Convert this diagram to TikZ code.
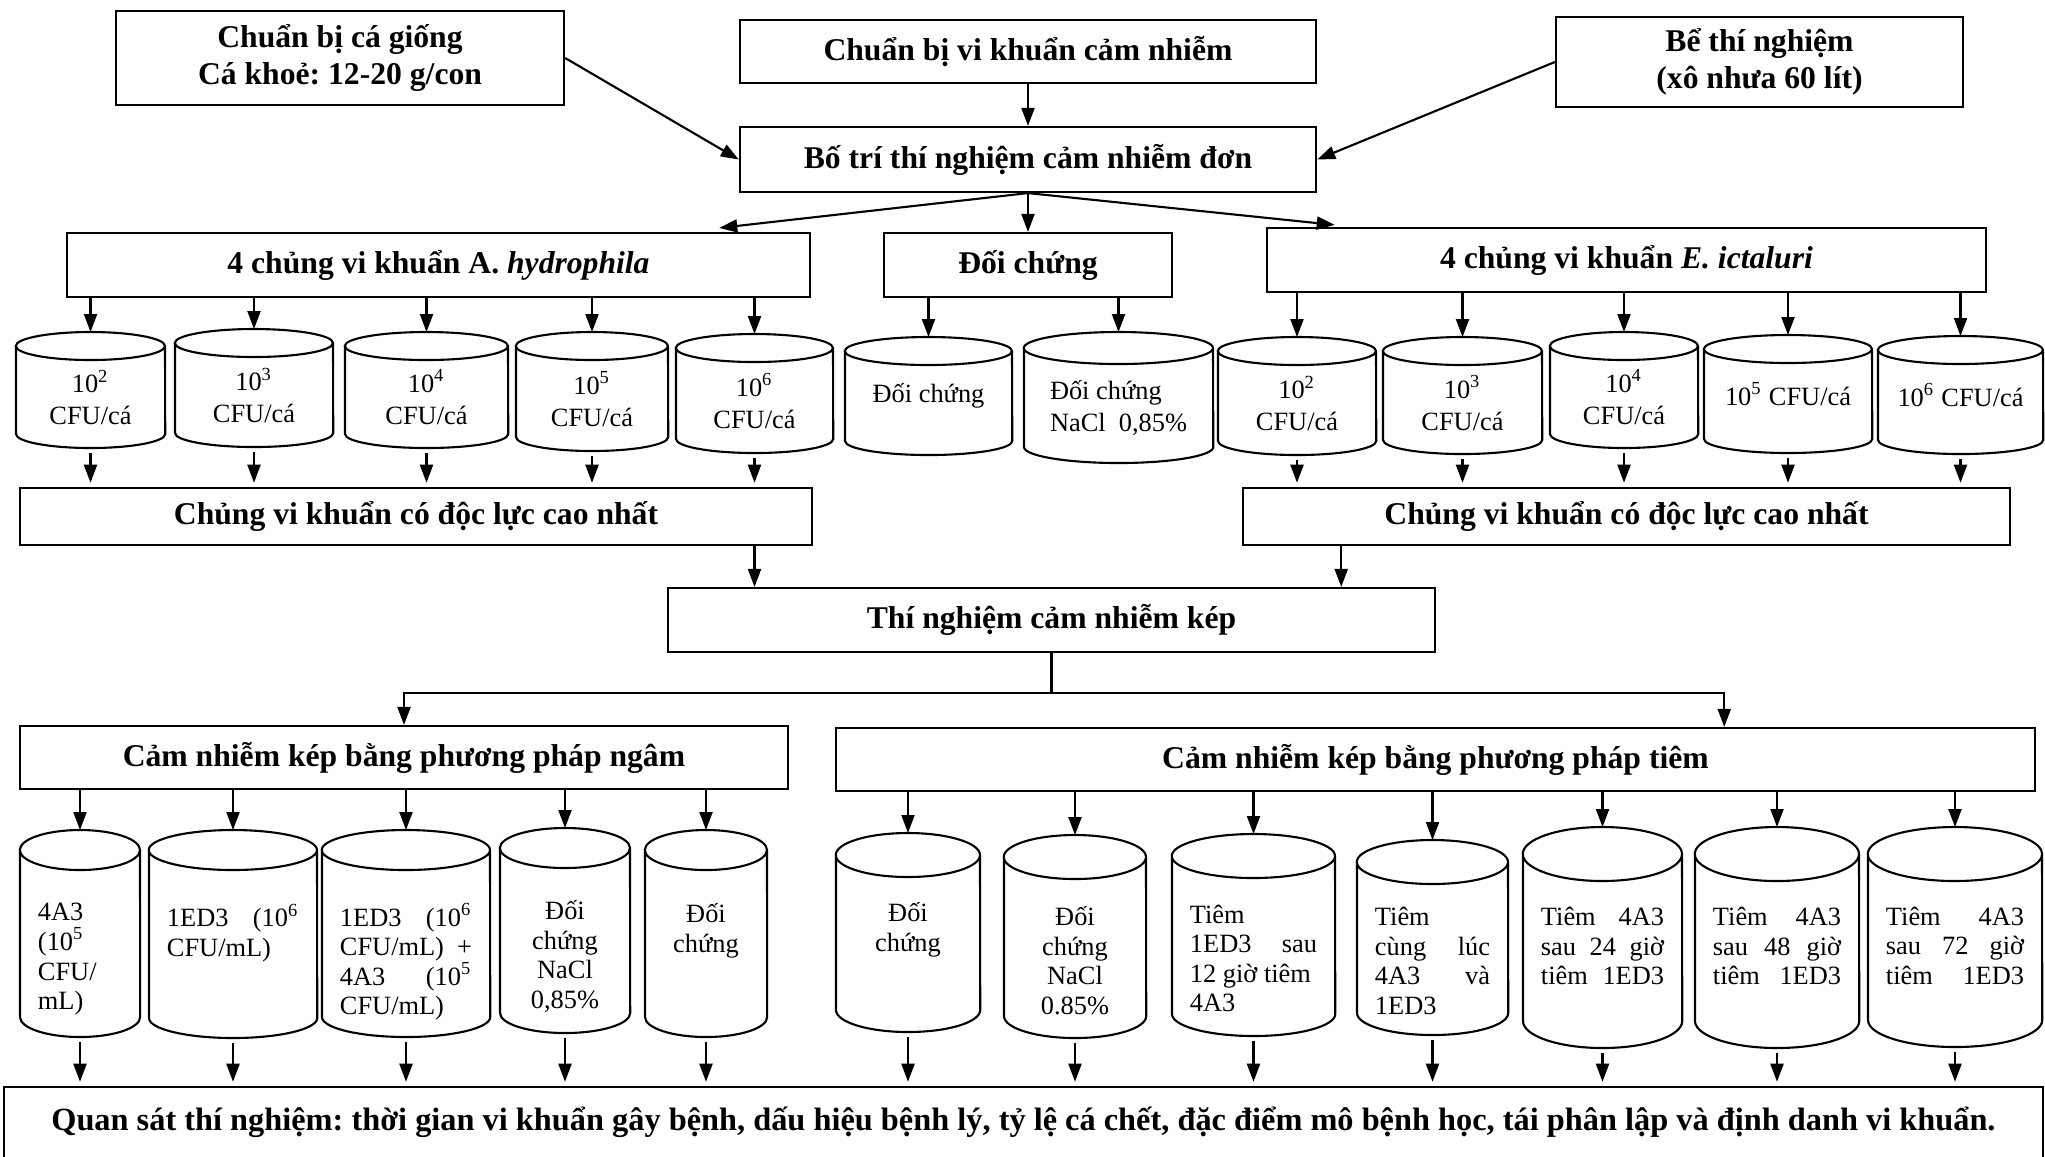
\documentclass[tikz,border=0pt]{standalone}
\usepackage{fontspec}
\setmainfont{Liberation Serif}
\usetikzlibrary{arrows.meta,calc}
\tikzset{
  >={Triangle[length=1.8mm,width=1.3mm]},
  box/.style={rectangle, draw, line width=0.6pt, inner sep=0pt, align=center,
    font=\bfseries\fontsize{9}{10.4}\selectfont},
  vessel/.style={rectangle, inner sep=0pt, outer sep=0pt, align=center,
    font=\fontsize{7.5}{9.1}\selectfont},
  rim/.style={line width=0.6pt},
  tr/.style={->, line width=0.6pt},
  trc/.style={->, line width=0.6pt, shorten <=1.5pt, shorten >=1.2pt}
}
% tank: [options]{name}{left}{right}{top}{bottom}{cap}{text}
\newcommand{\vessel}[8][]{%
  \node[vessel, #1, minimum width={(#4-#3)*0.01cm}, minimum height={(#6-#5)*0.01cm}]
    (#2) at ({(#3+#4)/2},{(#5+#6)/2}) {#8};
  \draw[rim] ([yshift=-#7*0.01cm]#2.north west) -- ([yshift=#7*0.01cm]#2.south west)
    arc[start angle=180, end angle=360, x radius={(#4-#3)*0.005cm}, y radius={#7*0.01cm}]
    -- ([yshift=-#7*0.01cm]#2.north east)
    arc[start angle=0, end angle=360, x radius={(#4-#3)*0.005cm}, y radius={#7*0.01cm}];
}
% two lines, set a little lower
\newcommand{\two}[3][c]{\raisebox{-1.2mm}[\height][\depth]{\begin{tabular}{@{}#1@{}}#2\\#3\end{tabular}}}
% text block hung from the top
\newcommand{\jt}[2]{\parbox[c][0.60cm][t]{#1}{\fontsize{7.5}{8.4}\selectfont #2}}

\begin{document}
\frenchspacing
\begin{tikzpicture}[x=0.01cm, y=-0.01cm]
    \useasboundingbox (0,0) rectangle (2045,1156);

    % Preparation
    \node[box, minimum width=4.48cm, minimum height=0.94cm] (fish) at (340,58)
        {Chuẩn bị cá giống\\Cá khoẻ: 12-20 g/con};
    \node[box, minimum width=5.76cm, minimum height=0.63cm] (bact) at (1028,51.5)
        {Chuẩn bị vi khuẩn cảm nhiễm};
    \node[box, minimum width=4.07cm, minimum height=0.90cm] (tub) at (1759.5,62)
        {Bể thí nghiệm\\(xô nhưa 60 lít)};
    \node[box, minimum width=5.76cm, minimum height=0.65cm] (single) at (1028,159.5)
        {Bố trí thí nghiệm cảm nhiễm đơn};

    \draw[tr] (fish.east) -- (single.west);
    \draw[tr] (tub.west) -- (single.east);
    \draw[tr] (bact.south) -- (single.north);

    % Single infection groups
    \node[box, minimum width=7.43cm, minimum height=0.64cm] (hyd) at (438.5,265)
        {4 chủng vi khuẩn A. \textit{hydrophila}};
    \node[box, minimum width=2.88cm, minimum height=0.64cm] (ctrl) at (1028,265)
        {Đối chứng};
    \node[box, minimum width=7.19cm, minimum height=0.64cm] (ict) at (1626.5,260)
        {4 chủng vi khuẩn \textit{E. ictaluri}};

    \draw[tr] (single.south) -- ($(hyd.north east)+(-92,-4)$);
    \draw[tr] (single.south) -- (ctrl.north);
    \draw[tr] (single.south) -- ($(ict.north west)+(69,-2)$);

    % Doses, single infection
    \vessel{c1}{16}{165}{332}{448}{14}{\two{10\textsuperscript{2}}{CFU/cá}}
    \vessel{c2}{175}{333}{329}{447}{14}{\two{10\textsuperscript{3}}{CFU/cá}}
    \vessel{c3}{345}{508}{332}{448}{14}{\two{10\textsuperscript{4}}{CFU/cá}}
    \vessel{c4}{516}{668}{332}{451}{14}{\two{10\textsuperscript{5}}{CFU/cá}}
    \vessel{c5}{676}{833}{334}{453}{14}{\two{10\textsuperscript{6}}{CFU/cá}}
    \vessel{c6}{845}{1012}{337}{455}{14}{Đối chứng}
    \vessel{c7}{1024}{1213}{332}{463}{16}{\two[l]{Đối chứng}{NaCl\ \ 0,85\%}}
    \vessel{c8}{1218}{1376}{337}{455}{14}{\two{10\textsuperscript{2}}{CFU/cá}}
    \vessel{c9}{1383}{1542}{337}{454}{14}{\two{10\textsuperscript{3}}{CFU/cá}}
    \vessel{c10}{1550}{1698}{332}{448}{14}{\two{10\textsuperscript{4}}{CFU/cá}}
    \vessel{c11}{1704}{1872}{335}{453}{14}{10\textsuperscript{5} CFU/cá}
    \vessel{c12}{1878}{2043}{336}{454}{14}{10\textsuperscript{6} CFU/cá}

    \node[box, minimum width=7.92cm, minimum height=0.57cm] (best1) at (416,516.5)
        {Chủng vi khuẩn có độc lực cao nhất};
    \node[box, minimum width=7.67cm, minimum height=0.57cm] (best2) at (1626.5,516.5)
        {Chủng vi khuẩn có độc lực cao nhất};

    \foreach \i in {1,...,5} {
        \draw[tr] (hyd.south -| c\i.north) -- (c\i.north);
        \draw[trc] (c\i.south) -- (c\i.south |- best1.north);
    }
    \foreach \i in {6,7}
        \draw[tr] (ctrl.south -| c\i.north) -- (c\i.north);
    \foreach \i in {8,...,12} {
        \draw[tr] (ict.south -| c\i.north) -- (c\i.north);
        \draw[trc] (c\i.south) -- (c\i.south |- best2.north);
    }

    % Dual infection
    \node[box, minimum width=7.67cm, minimum height=0.64cm] (dual) at (1051.5,620)
        {Thí nghiệm cảm nhiễm kép};
    \draw[tr] (best1.south -| c5) -- (dual.north -| c5);
    \coordinate (k2) at ([xshift=-0.95cm]dual.north east);
    \draw[tr] (k2 |- best2.south) -- (k2);

    \node[box, minimum width=7.68cm, minimum height=0.63cm] (soak) at (404,757.5)
        {Cảm nhiễm kép bằng phương pháp ngâm};
    \node[box, minimum width=11.99cm, minimum height=0.63cm] (inject) at (1435.5,759.5)
        {Cảm nhiễm kép bằng phương pháp tiêm};

    \coordinate (fork) at ([yshift=-0.40cm]dual.south);
    \coordinate (k3) at ([xshift=-3.12cm]inject.north east);
    \draw[line width=0.6pt] (dual.south) -- (fork);
    \draw[tr] (fork) -| (soak.north);
    \draw[tr] (fork) -| (k3);

    % Immersion groups
    \vessel{d1}{20}{140}{830}{1037}{20}{\jt{0.84cm}{4A3\\(10\textsuperscript{5}\\CFU/\\mL)}}
    \vessel{d2}{149}{317}{830}{1038}{20}{\jt{1.32cm}{1ED3\hfill(10\textsuperscript{6}\\CFU/mL)}}
    \vessel{d3}{322}{490}{830}{1037}{20}{\jt{1.32cm}{1ED3\hfill(10\textsuperscript{6}\\CFU/mL)\hfill+\\4A3\hfill(10\textsuperscript{5}\\CFU/mL)}}
    \vessel{d4}{500}{630}{828}{1033}{20}{\jt{0.94cm}{\centering Đối\\chứng\\NaCl\\0,85\%}}
    \vessel{d5}{645}{767}{830}{1037}{20}{\jt{0.86cm}{\centering Đối\\chứng}}

    % Injection groups
    \vessel{e1}{836}{980}{833}{1032}{22}{\jt{1.08cm}{\centering Đối\\chứng}}
    \vessel{e2}{1004}{1146}{835}{1038}{22}{\jt{1.06cm}{\centering Đối\\chứng\\NaCl\\0.85\%}}
    \vessel{e3}{1172}{1335}{834}{1036}{22}{\jt{1.27cm}{Tiêm\\1ED3\hfill sau\\12 giờ tiêm\\4A3}}
    \vessel{e4}{1357}{1508}{840}{1035}{22}{\jt{1.15cm}{Tiêm\\cùng\hfill lúc\\4A3\hfill và\\1ED3}}
    \vessel{e5}{1523}{1682}{827}{1048}{27}{\jt{1.23cm}{Tiêm\hfill 4A3\\sau\hfill 24\hfill giờ\\tiêm\hfill 1ED3}}
    \vessel{e6}{1695}{1859}{827}{1048}{27}{\jt{1.28cm}{Tiêm\hfill 4A3\\sau\hfill 48\hfill giờ\\tiêm\hfill 1ED3}}
    \vessel{e7}{1868}{2042}{827}{1047}{27}{\jt{1.38cm}{Tiêm\hfill 4A3\\sau\hfill 72\hfill giờ\\tiêm\hfill 1ED3}}

    % Observation
    \node[box, minimum width=20.37cm, minimum height=0.71cm, font=\bfseries\fontsize{9.2}{10.6}\selectfont] (obs) at (1023.5,1122.5)
        {Quan sát thí nghiệm: thời gian vi khuẩn gây bệnh, dấu hiệu bệnh lý, tỷ lệ cá chết, đặc điểm mô bệnh học, tái phân lập và định danh vi khuẩn.};

    \foreach \i in {1,...,5} {
        \draw[tr] (soak.south -| d\i.north) -- (d\i.north);
        \draw[trc] (d\i.south) -- (d\i.south |- obs.north);
    }
    \foreach \i in {1,...,7} {
        \draw[tr] (inject.south -| e\i.north) -- (e\i.north);
        \draw[trc] (e\i.south) -- (e\i.south |- obs.north);
    }
\end{tikzpicture}
\end{document}
